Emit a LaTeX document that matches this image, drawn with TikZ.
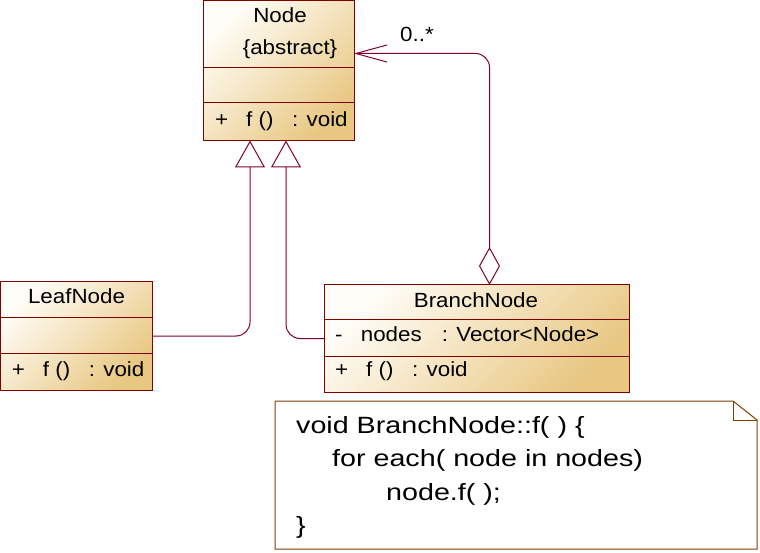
\documentclass[tikz,border=0pt]{standalone}
\usepackage{fontspec}
\setmainfont{Liberation Sans}[FakeStretch=1.09]
\newfontfamily\notefont{Liberation Sans}[FakeStretch=1.22]
\usetikzlibrary{arrows.meta}
\definecolor{clsborder}{RGB}{128,0,0}
\definecolor{connc}{RGB}{128,0,48}
\definecolor{notebrd}{RGB}{128,64,0}
\definecolor{tanlight}{RGB}{255,253,247}
\definecolor{tandark}{RGB}{232,199,130}
\newcommand{\opline}{\makebox[31pt][l]{+}\makebox[46pt][l]{f ()}: void}
\begin{document}
\begin{tikzpicture}[x=1pt,y=-1pt,
  classbox/.style={draw=clsborder, line width=1pt, rectangle, inner sep=0pt, outer sep=0pt,
    top color=tanlight, bottom color=tandark, shading angle=45, anchor=north west},
  classline/.style={draw=clsborder, line width=1pt},
  ctext/.style={font=\fontsize{20.5}{24}\selectfont, inner sep=0pt, text=black},
  notetext/.style={font=\notefont\fontsize{23.5}{28}\selectfont, inner sep=0pt, anchor=base west},
  gen/.style={draw=connc, line width=1pt, rounded corners=14pt, -{Triangle[open,length=27pt,width=30pt]}},
  assoc/.style={draw=connc, line width=1pt, rounded corners=14pt,
    {Diamond[open,length=38pt,width=21pt]}-{Straight Barb[length=31pt,width=17pt]}},
]
\useasboundingbox (0,0) rectangle (760,553);

% Node class
\node[classbox, minimum width=151pt, minimum height=140pt] (nodecls) at (203,0.5) {};
\draw[classline] ([yshift=-67.5pt]nodecls.north west) -- ([yshift=-67.5pt]nodecls.north east);
\draw[classline] ([yshift=-102.5pt]nodecls.north west) -- ([yshift=-102.5pt]nodecls.north east);
\node[ctext, anchor=base] (nodetitle) at (280,22.7) {Node};
\node[ctext, anchor=base] (nodeabs) at (290,54.3) {\{abstract\}};
\node[ctext, anchor=base west] (nodeop) at (215,126.7) {\opline};

% LeafNode class
\node[classbox, minimum width=151.5pt, minimum height=108pt] (leaf) at (0.5,282) {};
\draw[classline] ([yshift=-35pt]leaf.north west) -- ([yshift=-35pt]leaf.north east);
\draw[classline] ([yshift=-71pt]leaf.north west) -- ([yshift=-71pt]leaf.north east);
\node[ctext, anchor=base] (leaftitle) at (76.5,303.3) {LeafNode};
\node[ctext, anchor=base west] (leafop) at (11.7,376) {\opline};

% BranchNode class
\node[classbox, minimum width=305pt, minimum height=107pt] (branch) at (324,285) {};
\draw[classline] ([yshift=-34pt]branch.north west) -- ([yshift=-34pt]branch.north east);
\draw[classline] ([yshift=-71pt]branch.north west) -- ([yshift=-71pt]branch.north east);
\node[ctext, anchor=base] (branchtitle) at (476,307.7) {BranchNode};
\node[ctext, anchor=base west] (branchattr) at (335,341) {\makebox[25.7pt][l]{-}\makebox[81pt][l]{nodes}: Vector<Node>};
\node[ctext, anchor=base west] (branchop) at (335,376.7) {\opline};

% Note
\node[rectangle, inner sep=0pt, outer sep=0pt, minimum width=482pt, minimum height=148pt, anchor=north west] (note) at (275,401) {};
\draw[draw=notebrd, line width=1pt, fill=white]
  ([xshift=-24pt]note.north east) -- (note.north west) -- (note.south west) -- (note.south east)
  -- ([yshift=-19pt]note.north east) -- cycle;
\draw[draw=notebrd, line width=1pt]
  ([xshift=-24pt]note.north east) -- ([xshift=-24pt,yshift=-19pt]note.north east) -- ([yshift=-19pt]note.north east);
\node[notetext] (nl1) at (296,433) {void BranchNode::f( ) \{};
\node[notetext] (nl2) at (332,466.7) {for each( node in nodes)};
\node[notetext] (nl3) at (386,500) {node.f( );};
\node[notetext] (nl4) at (296,533) {\}};

% Connectors
\draw[gen] (leaf.east) -| ([xshift=47pt]nodecls.south west);
\draw[gen] (branch.west) -| ([xshift=83pt]nodecls.south west);
\coordinate (agg) at ([xshift=165.5pt]branch.north west);
\draw[assoc] (agg) |- ([yshift=17pt]nodecls.east);
\node[ctext, anchor=base west] (mult) at (400,41.7) {0..*};
\end{tikzpicture}
\end{document}
